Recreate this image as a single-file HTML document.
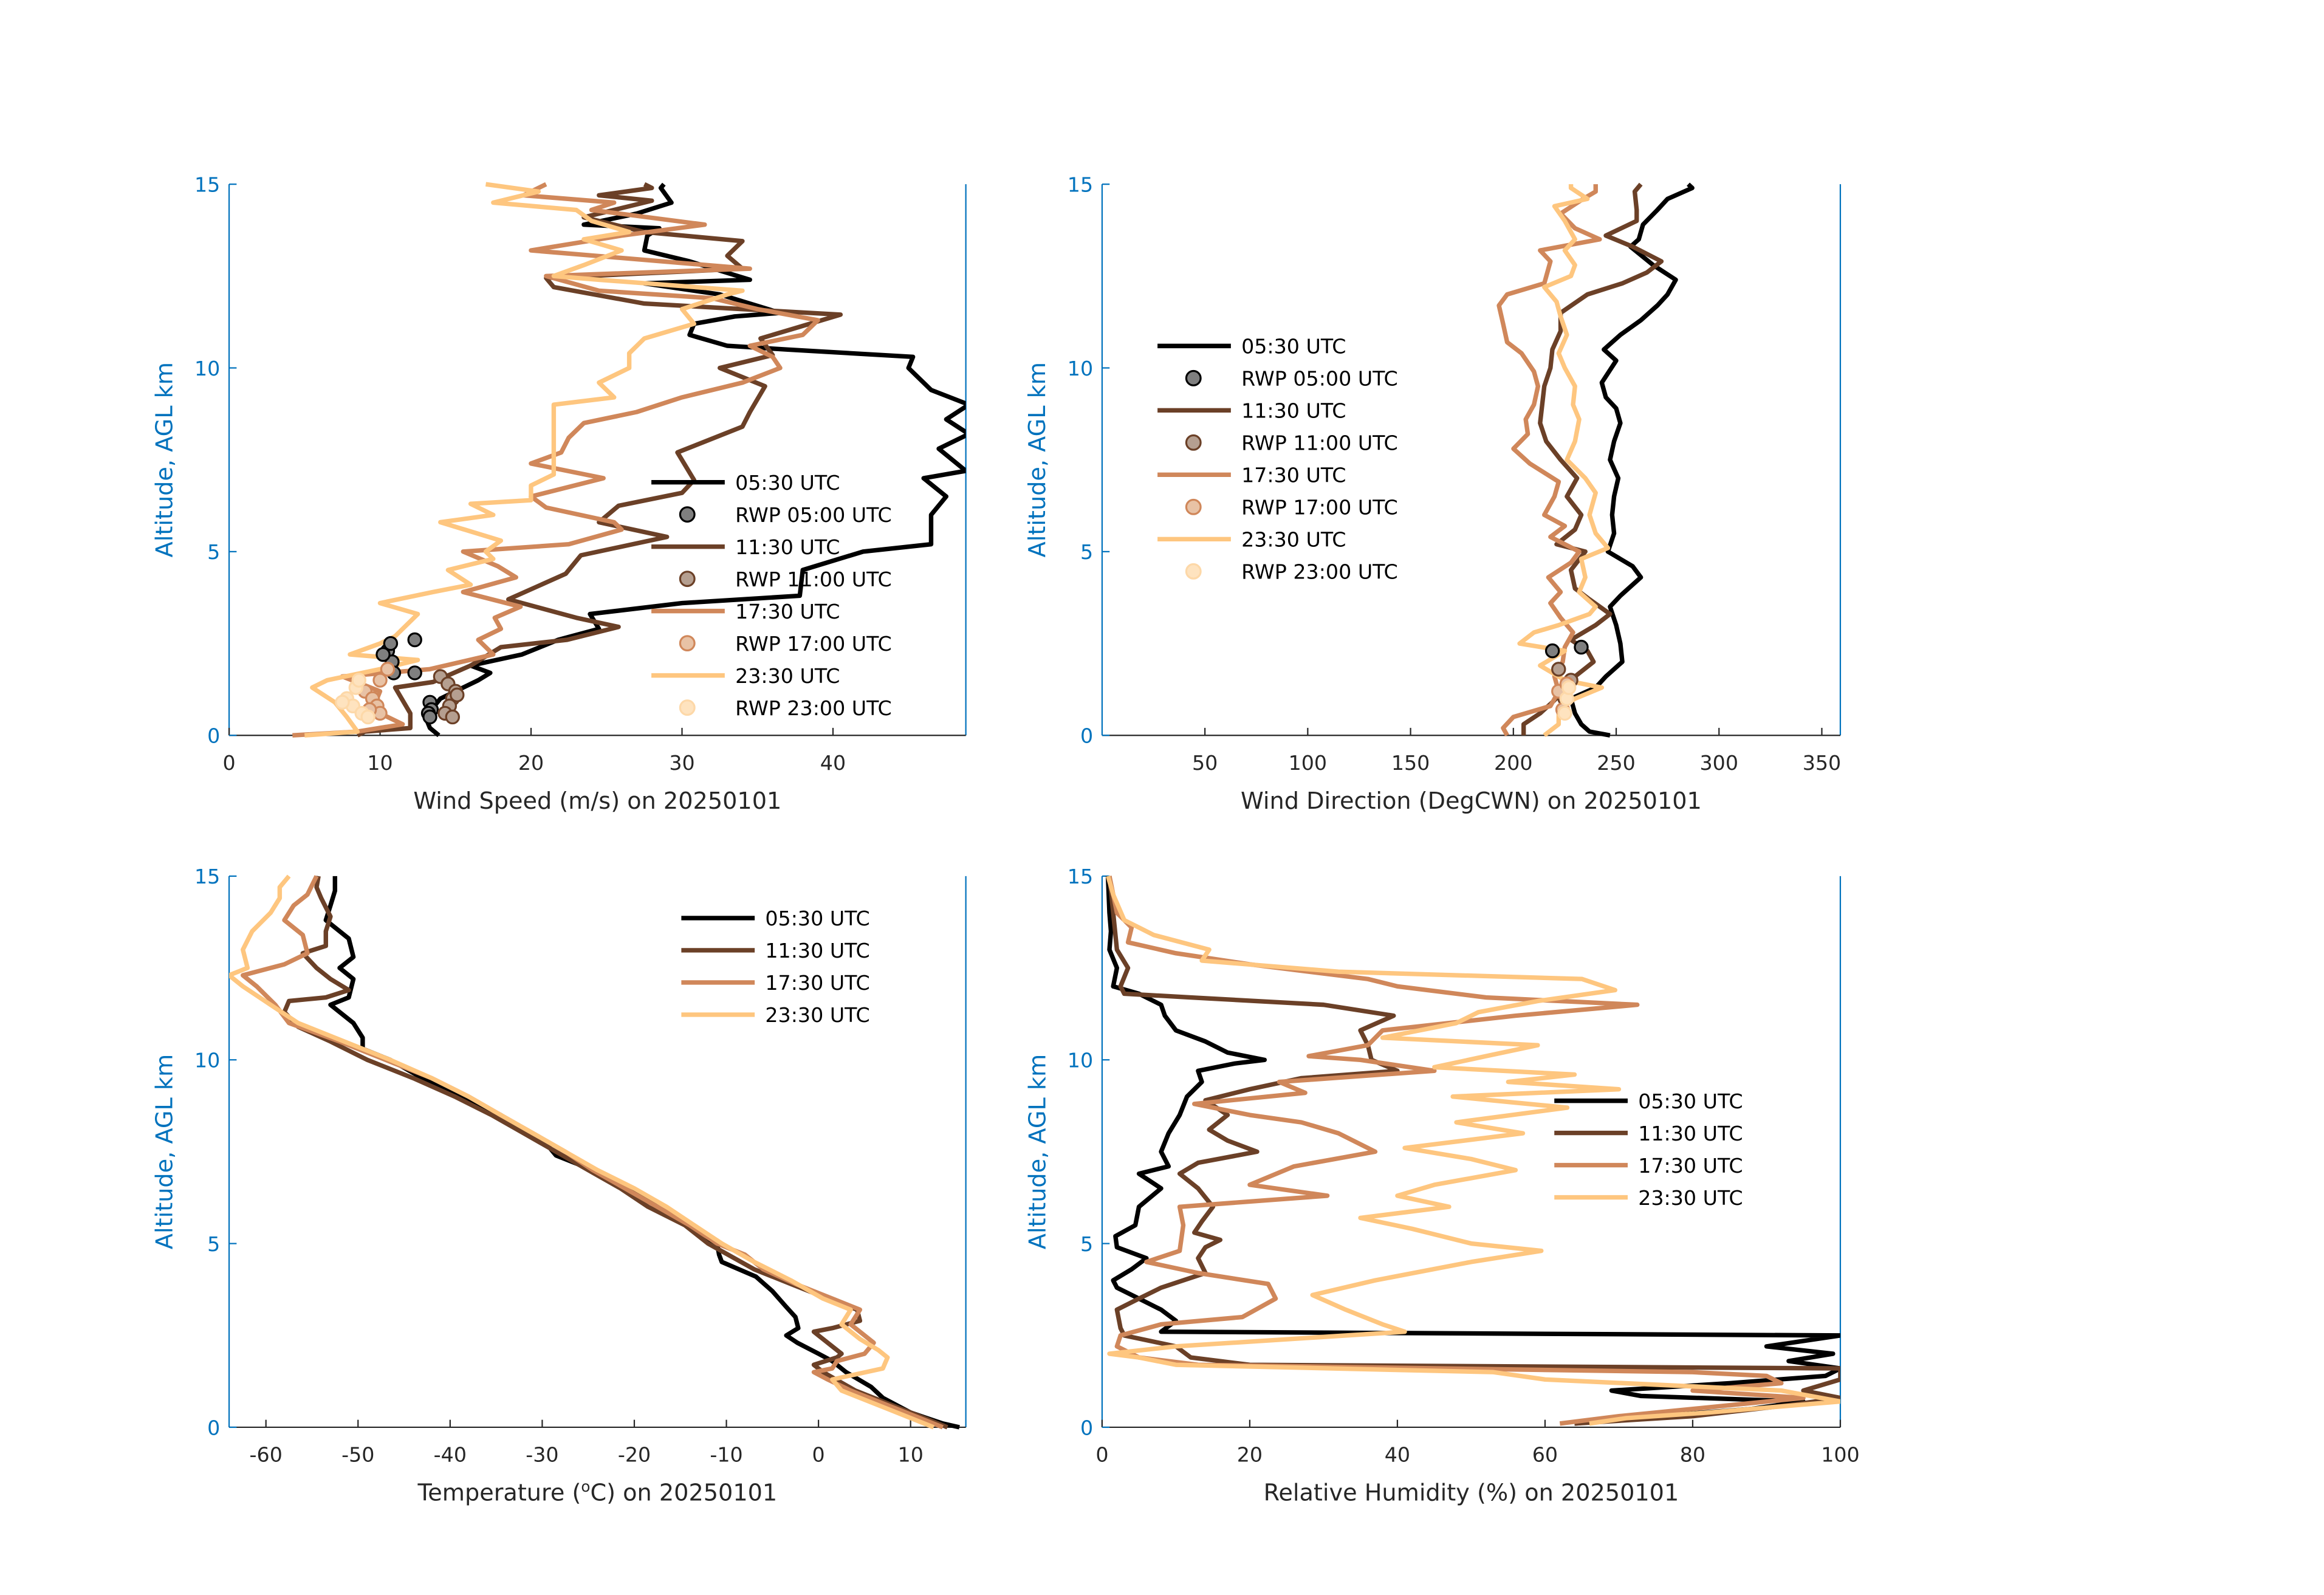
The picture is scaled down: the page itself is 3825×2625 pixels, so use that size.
<!DOCTYPE html>
<html><head><meta charset="utf-8">
<style>
html,body{margin:0;padding:0;background:#fff;}
svg{display:block;}
text{font-family:"DejaVu Sans","Liberation Sans",sans-serif;}
</style></head>
<body>
<svg id="fig" xmlns="http://www.w3.org/2000/svg" width="3825" height="2625" viewBox="0 0 1552 1065" preserveAspectRatio="none">
<rect width="1552" height="1065" fill="#fff"/>
</svg>
<script>
// ---------- DATA ----------
const altWS0530 = [0,0.2,0.5,1.0,1.3,1.5,1.7,1.9,2.2,2.6,2.9,3.3,3.6,3.8,4.5,5.0,5.2,6.0,6.5,7.0,7.2,7.8,8.2,8.6,9.0,9.4,10.0,10.3,10.5,10.6,10.9,11.2,11.4,11.5,12.0,12.3,12.4,12.9,13.2,13.6,13.8,13.9,14.2,14.5,14.9,15];
const ws0530 = [13.9,13.3,13.0,14.0,15.5,16.5,17.3,16.0,19.4,21.8,24.5,23.9,30,37.8,38,42,46.5,46.5,47.5,46,48.8,47,49,47.5,49,46.5,45,45.3,37,33,30.5,30.8,33.5,36.5,32.5,27.5,34.5,30.5,27.5,27.7,28.5,23.5,27,29.3,28.6,28.8];
const altWS1130 = [0,0.1,0.2,0.6,1.3,1.45,1.9,2.4,2.6,2.95,3.2,3.7,4.4,4.9,5.4,5.8,6.25,6.6,6.95,7.7,8.4,8.8,9.5,10,10.35,10.8,11.45,11.75,12.2,12.45,12.7,13.05,13.45,13.7,14.1,14.55,14.7,14.9,15];
const ws1130 = [8.5,9,12,12,11,13.5,16,18,22.4,25.8,23,18.5,22.3,23.3,29,24.5,25.8,30,30.8,29.7,34,34.5,35.5,32.5,36,35.2,40.5,27.5,21.5,21,34,33,34,27.5,23.5,28,24.5,28,27.5];
const altWS1730 = [0,0.1,0.3,0.7,1.2,1.6,1.8,2.2,2.6,2.9,3.2,3.5,3.9,4.3,4.6,5.0,5.2,5.6,5.8,6.2,6.5,7.0,7.4,7.7,8.1,8.5,8.8,9.2,9.6,10.0,10.3,10.6,10.9,11.3,11.6,11.9,12.1,12.5,12.7,13.2,13.6,13.9,14.3,14.5,14.7,15];
const ws1730 = [4.2,8.5,11.5,9.5,10,7.5,13.3,17.5,16.5,18,17.6,19.3,15.5,19,17.8,15.5,22.5,26,25.5,21,20,24.8,20,22,22.5,23.5,27,30,34,36.5,36,34.5,38,39,35,32,24.5,21,34.5,20,26,31.5,24,25.5,19.5,21];
const altWS2330 = [0,0.1,0.5,0.9,1.3,1.5,1.8,2.05,2.2,2.5,2.7,3.3,3.6,3.9,4.1,4.5,4.8,5.0,5.3,5.8,6.0,6.3,6.4,6.8,7.1,7.5,8.0,8.5,9.0,9.2,9.6,10.0,10.4,10.8,11.2,11.6,12.0,12.1,12.4,12.5,12.8,13.2,13.5,13.7,14.0,14.3,14.5,14.8,15];
const ws2330 = [5,8.5,7.8,7,5.5,6.5,10,12.5,8,10,11,12.5,10,13.5,16,14.5,17.5,17,18,14,17.5,16,20,20,21.5,21.5,21.5,21.5,21.5,25.5,24.5,26.5,26.5,27.5,30.8,30,33,34,24.5,21.5,23.5,26,23.5,26.5,24,23,17.5,20.5,17];
const rwpWS0500 = [10.5,10.7,12.3,10.8,10.2,10.9,12.3,13.3,13.4,13.2,13.3];
const rwpAlt0500 = [2.3,2.5,2.6,2.0,2.2,1.7,1.7,0.9,0.7,0.6,0.5];
const rwpWS1100 = [14,14.5,15,14.8,14.6,14.3,14.8,15.1];
const rwpAlt1100 = [1.6,1.4,1.2,1.0,0.8,0.6,0.5,1.1];
const rwpWS1700 = [10,9,9.5,9.8,10,9.3,10.5];
const rwpAlt1700 = [1.5,1.2,1.0,0.8,0.6,0.7,1.8];
const rwpWS2300 = [8.4,7.8,8.2,8.8,9.2,7.5,8.6];
const rwpAlt2300 = [1.3,1.0,0.8,0.6,0.5,0.9,1.5];

const altWD0530 = [0,0.1,0.3,0.6,1.0,1.3,1.6,2.0,2.5,3.0,3.5,3.8,4.3,4.6,5.0,5.5,6.0,6.5,7.0,7.5,8.0,8.5,8.9,9.2,9.6,10.2,10.5,10.9,11.3,11.7,12.0,12.4,12.8,13.3,13.5,13.9,14.3,14.6,14.9,15];
const wd0530 = [247,237,233,230,228,240,245,253,252,250,247,252,262,258,246,249,248,249,251,247,249,252,250,245,243,250,244,252,262,270,275,279,268,257,261,263,270,275,287,285];
const altWD1130 = [0,0.3,0.6,0.9,1.3,1.6,2.0,2.3,2.6,3.0,3.3,3.7,4.0,4.5,5.0,5.2,5.6,6.0,6.5,7.0,7.5,8.0,8.5,9.0,9.5,10.0,10.5,11.0,11.5,12.0,12.3,12.6,12.9,13.3,13.6,14.0,14.3,14.8,15];
const wd1130 = [205,205,213,219,226,230,239,236,228,240,247,237,230,228,235,221,230,233,226,231,223,216,213,214,215,218,219,223,223,236,253,265,272,258,245,260,260,259,262];
const altWD1730 = [0,0.2,0.5,0.8,1.2,1.6,2.0,2.4,2.8,3.2,3.6,3.9,4.3,4.7,5.0,5.4,5.7,6.0,6.5,6.9,7.4,7.8,8.2,8.6,9.0,9.5,9.9,10.4,10.7,11.2,11.7,12.0,12.3,12.9,13.2,13.5,13.8,14.2,14.6,14.8,15];
const wd1730 = [197,195,200,218,222,220,224,225,229,223,218,223,217,228,232,218,225,215,220,222,208,200,207,206,210,212,210,204,197,195,193,197,215,218,213,242,230,223,234,240,240];
const altWD2330 = [0,0.3,0.7,1.0,1.3,1.5,1.9,2.3,2.5,2.8,3.0,3.3,3.5,3.9,4.3,4.8,5.1,5.5,6.0,6.6,7.0,7.5,8.0,8.6,9.0,9.5,10.0,10.4,10.9,11.4,11.8,12.2,12.5,12.8,13.2,13.5,14.0,14.4,14.6,14.9,15];
const wd2330 = [215,222,222,230,243,225,213,225,203,210,222,237,240,232,235,233,246,240,237,240,235,226,230,232,229,230,225,222,226,223,221,215,228,230,225,230,225,220,236,228,228];
const rwpWD0500 = [219,233]; const rwpAltD0500 = [2.3,2.4];
const rwpWD1100 = [222,228,225]; const rwpAltD1100 = [1.8,1.5,1.0];
const rwpWD1700 = [222,224,226]; const rwpAltD1700 = [1.2,0.7,1.4];
const rwpWD2300 = [226,225,227]; const rwpAltD2300 = [1.0,0.6,1.3];

const altT0530 = [0,0.1,0.4,0.8,1.1,1.5,1.8,2.0,2.3,2.5,2.7,3.0,3.3,3.7,4.1,4.5,4.7,5.0,5.2,5.6,6.0,6.5,7.0,7.4,7.7,8.0,8.5,9.0,9.5,10.0,10.3,10.6,11.0,11.5,11.7,12.2,12.5,12.8,13.3,13.8,14.2,14.6,15.0];
const t0530 = [15.3,13.5,10,7,5.7,3,1.5,0,-2.3,-3.5,-2.2,-2.5,-3.6,-5,-6.8,-10.5,-10.8,-11,-12.5,-15,-17.5,-20.5,-24.5,-28.5,-29.5,-31.5,-34.5,-38.5,-43,-46.5,-49.5,-49.5,-50.5,-53,-51,-50.5,-52,-50.5,-51,-53.5,-53,-52.5,-52.5];
const altT1130 = [0,0.5,1.0,1.5,1.7,1.9,2.0,2.5,2.6,2.7,2.9,3.2,3.5,3.9,4.3,5.0,5.5,6.0,6.5,7.0,7.5,8.0,8.5,9.0,9.5,10.0,10.5,10.9,11.3,11.6,11.7,11.9,12.2,12.5,12.9,13.1,13.5,13.9,14.4,14.7,15.0];
const t1130 = [14,9,4,0.5,-0.5,2,2.5,0,-0.5,1.5,4.5,4.2,1.0,-3,-7,-12,-14.5,-18.5,-21.5,-25,-28.5,-32,-35.5,-39.5,-44,-49,-53,-56.5,-58,-57.5,-53.5,-51,-53,-54.5,-56,-53.5,-53.5,-53,-54,-54.5,-54.3];
const altT1730 = [0,0.5,1.0,1.3,1.5,1.6,1.8,2.0,2.3,2.5,2.8,3.2,3.5,3.9,4.3,4.7,5.0,5.5,6.0,6.5,7.0,7.5,8.0,8.5,9.0,9.5,10.0,10.5,11.0,11.5,12.0,12.3,12.6,12.9,13.4,13.8,14.2,14.5,15.0];
const t1730 = [13.5,8.5,3.5,1,-0.5,1.5,2,5,6,5,3.5,4.5,1.5,-2.5,-6,-8,-11,-14,-17.5,-21,-24.5,-27.5,-31,-34.5,-38,-42,-47,-52,-57.5,-59,-61,-62.5,-58,-55.5,-56,-58,-57,-55.5,-54.5];
const altT2330 = [0,0.5,1.0,1.3,1.6,1.9,2.1,2.4,2.8,3.2,3.5,4.0,4.5,5.0,5.5,6.0,6.5,7.0,7.5,8.0,8.5,9.0,9.5,10.0,10.5,11.0,11.5,12.0,12.3,12.5,13.0,13.5,14.0,14.4,14.7,15.0];
const t2330 = [12.5,7.5,2.5,1.5,7,7.5,6.5,4.5,2.5,3.5,0.5,-3,-7,-10.5,-13.5,-16.5,-20,-24,-27.5,-31,-34.5,-38,-42,-46.5,-51.5,-56.5,-59.5,-62.5,-64,-62,-62.5,-61.5,-59.5,-58.5,-58.5,-57.5];

const altRH0530 = [0.1,0.3,0.5,0.7,0.85,1.0,1.2,1.4,1.6,1.8,2.0,2.2,2.5,2.6,2.9,3.2,3.5,3.8,4.0,4.3,4.6,4.9,5.2,5.5,6.0,6.5,6.9,7.1,7.5,8.0,8.5,9.0,9.4,9.7,9.9,10.0,10.2,10.5,10.8,11.2,11.5,11.8,12.0,12.5,13.0,13.5,14,15];
const rh0530 = [64,75,88,95,73,69,85,98,100,93,99,90,100,8,10,8,5,2,1.5,4,6,2,1.8,4.5,5,8,5,9,8,9,10.5,11.5,13.5,13,18,22,17,14,10,8.5,8,5,1.5,2,1,1.2,1,0.8];
const altRH1130 = [0.1,0.3,0.6,0.8,1.0,1.3,1.6,1.7,1.9,2.2,2.5,2.7,3.2,3.5,3.8,4.2,4.6,4.9,5.1,5.3,5.6,6.0,6.5,6.9,7.2,7.5,7.8,8.1,8.5,8.9,9.2,9.5,9.7,10.0,10.4,10.8,11.2,11.5,11.7,11.8,12.0,12.5,13.0,14.0,15];
const rh1130 = [64,80,93,100,95,100,100,20,12,10,3,2.5,2,5,8,14,13,14,16,12.5,13.5,15,13,10.5,13,21,17,14.5,17,14,20,27,40,36.5,36,35,39.5,30,12,3,2.5,3.5,2,1.5,1];
const altRH1730 = [0.1,0.3,0.6,0.8,1.0,1.2,1.4,1.5,1.7,1.9,2.2,2.5,2.8,3.0,3.5,3.9,4.2,4.5,4.8,5.5,6.0,6.3,6.6,7.1,7.5,8.0,8.3,8.5,8.8,9.1,9.4,9.7,10.0,10.1,10.4,10.8,11.2,11.5,11.7,12.0,12.2,12.6,12.9,13.2,13.6,14.0,15];
const rh1730 = [62,70,85,95,80,92,90,80,13,5,2,2.5,8,19,23.5,22.5,13,6,10.5,11,10.5,30.5,20,26,37,32,27,20,12.5,27.5,24,45,35,28,36,38,56,72.5,52,40,36,20,10,3.5,4,2,1];
const altRH2330 = [0.1,0.25,0.4,0.7,1.0,1.3,1.5,1.7,1.9,2.0,2.2,2.6,2.8,3.2,3.6,4.0,4.5,4.8,5.0,5.4,5.7,6.0,6.3,6.6,7.0,7.3,7.6,8.0,8.3,8.7,9.0,9.2,9.4,9.6,9.8,10.1,10.4,10.6,11.0,11.3,11.6,11.9,12.2,12.4,12.7,13.0,13.4,13.8,14.5,15];
const rh2330 = [66,71,82,100,92,60,53,10,5,1,10,41,38,33,28.5,37,50,59.5,50,42,35,47,40,45,56,50,41,57,48,63,47.5,70,55,64,45,52,59,38,48,51,59,69.5,65,32,13.5,14.5,7,3,1.5,0.8];

const legendLabels = ["05:30 UTC","11:30 UTC","17:30 UTC","23:30 UTC"];
const rwpLabels = ["RWP 05:00 UTC","RWP 11:00 UTC","RWP 17:00 UTC","RWP 23:00 UTC"];
const wsTicks = [0,10,20,30,40];
const wdTicks = [50,100,150,200,250,300,350];
const tTicks = [-60,-50,-40,-30,-20,-10,0,10];
const rhTicks = [0,20,40,60,80,100];
const altTicks = [0,5,10,15];

// ---------- STYLE ----------
const COLORS = ["#000000","#6b4027","#d0875a","#fec67f"];
const FILLS = ["#7f7f7f","#b59f90","#e8c2a5","#fee3bf"];
const BLUE = "#0072bd";
const NS = "http://www.w3.org/2000/svg";
const svg = document.getElementById('fig');
function mk(tag, attrs, parent){const e=document.createElementNS(NS,tag);for(const k in attrs)e.setAttribute(k,attrs[k]);(parent||svg).appendChild(e);return e;}

function makeAxes(cfg){
  const g = mk('g',{});
  
  
  const sx = v => cfg.x0 + (v - cfg.xmin)/(cfg.xmax-cfg.xmin)*(cfg.x1-cfg.x0);
  const sy = v => cfg.y0 - (v - 0)/15*(cfg.y0-cfg.y1);
  const cid = 'clip-'+cfg.name;
  const cp = mk('clipPath',{id:cid},g);
  mk('rect',{x:cfg.x0,y:cfg.y1-2,width:cfg.x1-cfg.x0,height:cfg.y0-cfg.y1+4},cp);
  const la = mk('line',{x1:cfg.x0,y1:cfg.y0,x2:cfg.x0,y2:cfg.y1,stroke:BLUE,'stroke-width':0.9},g);
  
  
  const ra = mk('line',{x1:cfg.x1,y1:cfg.y0,x2:cfg.x1,y2:cfg.y1,stroke:BLUE,'stroke-width':0.9},g);
  
  
  const ba = mk('line',{x1:cfg.x0,y1:cfg.y0,x2:cfg.x1,y2:cfg.y0,stroke:'#262626','stroke-width':0.9},g);
  
  
  cfg.xticks.forEach(t=>{
    const x=sx(t);
    mk('line',{x1:x,y1:cfg.y0,x2:x,y2:cfg.y0-5,stroke:'#262626','stroke-width':0.9},g);
    const tx=mk('text',{x:x,y:cfg.y0+23,'text-anchor':'middle','font-size':13.5,fill:'#262626'},g);
    tx.textContent=t;
    
    
  });
  altTicks.forEach(t=>{
    const y=sy(t);
    mk('line',{x1:cfg.x0,y1:y,x2:cfg.x0+5,y2:y,stroke:BLUE,'stroke-width':0.9},g);
    const tx=mk('text',{x:cfg.x0-6,y:y+5,'text-anchor':'end','font-size':13.5,fill:BLUE},g);
    tx.textContent=t;
    
    
  });
  const xl=mk('text',{x:(cfg.x0+cfg.x1)/2,y:cfg.y0+49,'text-anchor':'middle','font-size':15.5,fill:'#262626'},g);
  xl.innerHTML=cfg.xlabel;
  
  
  const yc=(cfg.y0+cfg.y1)/2;
  const yl=mk('text',{x:cfg.x0-38,y:yc,'text-anchor':'middle','font-size':15.5,fill:BLUE,transform:`rotate(-90 ${cfg.x0-38} ${yc})`},g);
  yl.textContent='Altitude, AGL km';
  
  
  const plot = mk('g',{'clip-path':`url(#${cid})`},g);
  
  
  return {g,plot,sx,sy};
}
function line(ax, xs, alts, i, nm){
  const d = xs.map((v,k)=>(k?'L':'M')+ax.sx(v).toFixed(1)+' '+ax.sy(alts[k]).toFixed(1)).join(' ');
  const p = mk('path',{d,fill:'none',stroke:COLORS[i],'stroke-width':3,'stroke-linejoin':'round'},ax.plot);
  
  
}
function markers(ax, xs, alts, i, nm){
  xs.forEach((v,k)=>{
    const c = mk('circle',{cx:ax.sx(v),cy:ax.sy(alts[k]),r:4.3,fill:FILLS[i],stroke:COLORS[i]==='#fec67f'?'#fdd8a8':COLORS[i],'stroke-width':1.3},ax.plot);
    
    
  });
}
function legend(ax, x, y, dy, withRwp){
  const g = mk('g',{},ax.g);
  
  
  let row=0;
  for(let i=0;i<4;i++){
    const yy=y+row*dy;
    mk('line',{x1:x,y1:yy,x2:x+49,y2:yy,stroke:COLORS[i],'stroke-width':3},g);
    const t=mk('text',{x:x+56,y:yy+5,'font-size':13.5,fill:'#000'},g);
    t.textContent=legendLabels[i];
    
    
    row++;
    if(withRwp){
      const yy2=y+row*dy;
      mk('circle',{cx:x+24,cy:yy2,r:4.8,fill:FILLS[i],stroke:COLORS[i]==='#fec67f'?'#fdd8a8':COLORS[i],'stroke-width':1.3},g);
      const t2=mk('text',{x:x+56,y:yy2+5,'font-size':13.5,fill:'#000'},g);
      t2.textContent=rwpLabels[i];
      
      
      row++;
    }
  }
}

const a1 = makeAxes({name:'wind-speed-panel',x0:153,x1:645,y0:491,y1:123,xmin:0,xmax:48.8,xticks:wsTicks,xlabel:'Wind Speed (m/s) on 20250101'});
line(a1,ws0530,altWS0530,0,'ws-line-0530');
line(a1,ws1130,altWS1130,1,'ws-line-1130');
line(a1,ws1730,altWS1730,2,'ws-line-1730');
line(a1,ws2330,altWS2330,3,'ws-line-2330');
markers(a1,rwpWS0500,rwpAlt0500,0,'rwp-ws-0500');
markers(a1,rwpWS1100,rwpAlt1100,1,'rwp-ws-1100');
markers(a1,rwpWS1700,rwpAlt1700,2,'rwp-ws-1700');
markers(a1,rwpWS2300,rwpAlt2300,3,'rwp-ws-2300');
legend(a1,435,322,21.5,true);

const a2 = makeAxes({name:'wind-direction-panel',x0:736,x1:1229,y0:491,y1:123,xmin:0,xmax:359,xticks:wdTicks,xlabel:'Wind Direction (DegCWN) on 20250101'});
line(a2,wd0530,altWD0530,0,'wd-line-0530');
line(a2,wd1130,altWD1130,1,'wd-line-1130');
line(a2,wd1730,altWD1730,2,'wd-line-1730');
line(a2,wd2330,altWD2330,3,'wd-line-2330');
markers(a2,rwpWD0500,rwpAltD0500,0,'rwp-wd-0500');
markers(a2,rwpWD1100,rwpAltD1100,1,'rwp-wd-1100');
markers(a2,rwpWD1700,rwpAltD1700,2,'rwp-wd-1700');
markers(a2,rwpWD2300,rwpAltD2300,3,'rwp-wd-2300');
legend(a2,773,231,21.5,true);

const a3 = makeAxes({name:'temperature-panel',x0:153,x1:645,y0:953,y1:585,xmin:-64,xmax:16,xticks:tTicks,xlabel:'Temperature (<tspan font-size="10" dy="-6">o</tspan><tspan dy="6">C) on 20250101</tspan>'});
line(a3,t0530,altT0530,0,'temp-line-0530');
line(a3,t1130,altT1130,1,'temp-line-1130');
line(a3,t1730,altT1730,2,'temp-line-1730');
line(a3,t2330,altT2330,3,'temp-line-2330');
legend(a3,455,613,21.5,false);

const a4 = makeAxes({name:'humidity-panel',x0:736,x1:1229,y0:953,y1:585,xmin:0,xmax:100,xticks:rhTicks,xlabel:'Relative Humidity (%) on 20250101'});
line(a4,rh0530,altRH0530,0,'rh-line-0530');
line(a4,rh1130,altRH1130,1,'rh-line-1130');
line(a4,rh1730,altRH1730,2,'rh-line-1730');
line(a4,rh2330,altRH2330,3,'rh-line-2330');
legend(a4,1038,735,21.5,false);
</script>
</body></html>
